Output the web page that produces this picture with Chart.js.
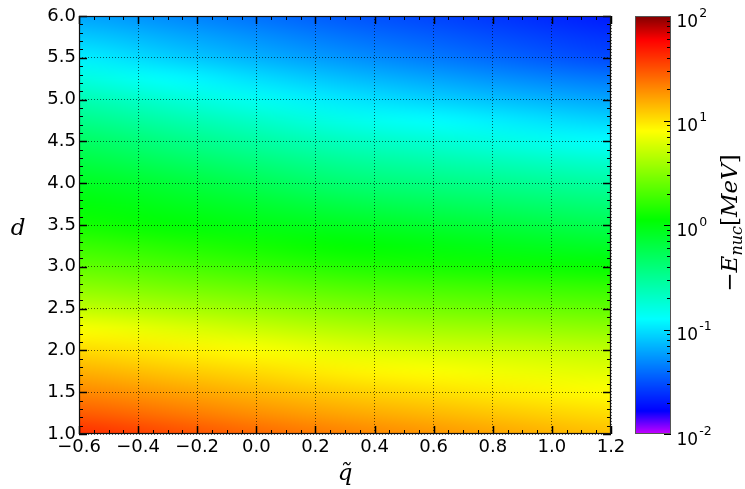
<!DOCTYPE html>
<html>
<head>
<meta charset="utf-8">
<script src="https://cdn.jsdelivr.net/npm/chart.js@4.4.0/dist/chart.umd.min.js"></script>
<style>
  html, body { margin: 0; padding: 0; background: #fff; }
  #wrap { position: relative; width: 745px; height: 489px; }
  #main { position: absolute; left: 0; top: 0; }
  #bar { position: absolute; left: 625px; top: 0; }
</style>
</head>
<body>
<div id="wrap">
  <canvas id="main" width="625" height="489"></canvas>
  <canvas id="bar" width="120" height="489"></canvas>
</div>
<script>
// grid
const qValues = [-0.6, -0.3, 0.0, 0.3, 0.6, 0.9, 1.2];
const dValues = [1.0, 1.25, 1.5, 1.75, 2.0, 2.25, 2.5, 2.75, 3.0, 3.25, 3.5,
                 3.75, 4.0, 4.25, 4.5, 4.75, 5.0, 5.25, 5.5, 5.75, 6.0];
// log10(-E_nuc / MeV), one row per d value, one column per q value
const logEnuc = [
  [ 1.62,  1.52,  1.42,  1.33,  1.26,  1.19,  1.12],
  [ 1.46,  1.37,  1.28,  1.20,  1.14,  1.07,  1.01],
  [ 1.31,  1.23,  1.15,  1.07,  1.01,  0.95,  0.90],
  [ 1.17,  1.09,  1.02,  0.94,  0.89,  0.84,  0.80],
  [ 1.03,  0.96,  0.89,  0.81,  0.76,  0.73,  0.69],
  [ 0.89,  0.81,  0.73,  0.65,  0.60,  0.57,  0.53],
  [ 0.69,  0.62,  0.55,  0.48,  0.43,  0.40,  0.37],
  [ 0.52,  0.45,  0.39,  0.32,  0.28,  0.25,  0.22],
  [ 0.37,  0.30,  0.23,  0.16,  0.12,  0.09,  0.06],
  [ 0.24,  0.17,  0.11,  0.05,  0.00, -0.05, -0.10],
  [ 0.11,  0.04, -0.02, -0.07, -0.13, -0.19, -0.25],
  [ 0.02, -0.05, -0.13, -0.22, -0.28, -0.34, -0.40],
  [-0.07, -0.15, -0.26, -0.37, -0.43, -0.49, -0.55],
  [-0.19, -0.29, -0.40, -0.51, -0.58, -0.65, -0.72],
  [-0.31, -0.43, -0.55, -0.66, -0.74, -0.82, -0.90],
  [-0.46, -0.58, -0.70, -0.82, -0.90, -0.98, -1.05],
  [-0.61, -0.74, -0.86, -0.98, -1.06, -1.14, -1.21],
  [-0.78, -0.90, -1.01, -1.12, -1.21, -1.30, -1.37],
  [-0.95, -1.06, -1.17, -1.27, -1.36, -1.45, -1.53],
  [-1.08, -1.18, -1.28, -1.38, -1.46, -1.54, -1.61],
  [-1.21, -1.30, -1.39, -1.48, -1.55, -1.62, -1.69]
];
const qTicks = [-0.6, -0.4, -0.2, 0.0, 0.2, 0.4, 0.6, 0.8, 1.0, 1.2];
const dTicks = [1.0, 1.5, 2.0, 2.5, 3.0, 3.5, 4.0, 4.5, 5.0, 5.5, 6.0];
const barExponents = [-2, -1, 0, 1, 2];

// colour map as seen on the colour bar (log10 value -> rgb)
const cmapStops = [
  [-2.0, [200, 0, 255]],
  [-1.78, [0, 0, 255]],
  [-0.9, [0, 255, 255]],
  [0.05, [0, 255, 0]],
  [0.9, [255, 255, 0]],
  [1.77, [255, 0, 0]],
  [2.0, [128, 0, 0]]
];

function cmap(v) {
  if (v <= cmapStops[0][0]) return cmapStops[0][1];
  for (let i = 1; i < cmapStops.length; i++) {
    const [v1, c1] = cmapStops[i];
    if (v <= v1) {
      const [v0, c0] = cmapStops[i - 1];
      const t = (v - v0) / (v1 - v0);
      return c0.map((c, k) => Math.round(c + (c1[k] - c) * t));
    }
  }
  return cmapStops[cmapStops.length - 1][1];
}

function fmt(v) {
  return (v < 0 ? '\u2212' : '') + Math.abs(v).toFixed(1);
}

const heatmap = {
  id: 'heatmap',
  beforeDraw(chart) {
    const { ctx, chartArea: a, scales: { x, y } } = chart;
    const nc = qValues.length, nr = dValues.length;
    const off = document.createElement('canvas');
    off.width = nc; off.height = nr;
    const octx = off.getContext('2d');
    const img = octx.createImageData(nc, nr);
    for (let r = 0; r < nr; r++) {
      for (let c = 0; c < nc; c++) {
        const rgb = cmap(logEnuc[nr - 1 - r][c]);
        const i = (r * nc + c) * 4;
        img.data[i] = rgb[0]; img.data[i + 1] = rgb[1]; img.data[i + 2] = rgb[2]; img.data[i + 3] = 255;
      }
    }
    octx.putImageData(img, 0, 0);
    const x0 = x.getPixelForValue(qValues[0]);
    const x1 = x.getPixelForValue(qValues[nc - 1]);
    const yTop = y.getPixelForValue(dValues[nr - 1]);
    const yBot = y.getPixelForValue(dValues[0]);
    const cw = (x1 - x0) / (nc - 1), ch = (yBot - yTop) / (nr - 1);
    ctx.save();
    ctx.beginPath();
    ctx.rect(a.left, a.top, a.width, a.height);
    ctx.clip();
    ctx.imageSmoothingEnabled = true;
    ctx.imageSmoothingQuality = 'high';
    ctx.drawImage(off, x0 - cw / 2, yTop - ch / 2, cw * nc, ch * nr);
    ctx.restore();
  }
};

const frame = {
  id: 'frame',
  afterDraw(chart) {
    const { ctx, chartArea: a, scales: { x, y } } = chart;
    ctx.save();
    ctx.strokeStyle = '#000';
    const line = (x1, y1, x2, y2, w) => {
      ctx.lineWidth = w;
      ctx.beginPath(); ctx.moveTo(x1, y1); ctx.lineTo(x2, y2); ctx.stroke();
    };
    const tx = (v, len, w) => {
      const px = Math.round(x.getPixelForValue(v)) + 0.5;
      line(px, a.bottom, px, a.bottom - len, w);
      line(px, a.top, px, a.top + len, w);
    };
    const ty = (v, len, w) => {
      const py = Math.round(y.getPixelForValue(v)) + 0.5;
      line(a.left, py, a.left + len, py, w);
      line(a.right, py, a.right - len, py, w);
    };
    for (let i = 0; i < qTicks.length - 1; i++) {
      for (let k = 1; k < 4; k++) tx(qTicks[i] + (qTicks[i + 1] - qTicks[i]) * k / 4, 4, 1);
    }
    for (let i = 0; i < dTicks.length - 1; i++) {
      for (let k = 1; k < 5; k++) ty(dTicks[i] + (dTicks[i + 1] - dTicks[i]) * k / 5, 4, 1);
    }
    qTicks.forEach(v => tx(v, 8, 1.5));
    dTicks.forEach(v => ty(v, 8, 1.5));
    ctx.lineWidth = 1.2;
    ctx.strokeStyle = '#111';
    ctx.strokeRect(a.left + 0.5, a.top + 0.5, a.width - 1, a.height - 1);

    // axis titles
    ctx.fillStyle = '#000';
    ctx.font = 'italic 23px "DejaVu Serif"';
    ctx.textAlign = 'center';
    ctx.textBaseline = 'alphabetic';
    ctx.fillText('q\u0303', (a.left + a.right) / 2, 480);
    ctx.fillText('d', 18, 235);
    ctx.restore();
  }
};

const tickFont = { family: 'DejaVu Sans', size: 18 };

new Chart(document.getElementById('main'), {
  type: 'scatter',
  data: { datasets: [] },
  options: {
    responsive: false,
    animation: false,
    layout: { padding: { left: 0, right: 14, top: 16, bottom: 0 } },
    plugins: { legend: { display: false }, tooltip: { enabled: false } },
    scales: {
      x: {
        type: 'linear', min: -0.6, max: 1.2,
        afterBuildTicks: s => { s.ticks = qTicks.map(v => ({ value: v })); },
        afterFit: s => { s.height = 55; s.paddingLeft = 0; s.paddingRight = 0; },
        ticks: { font: tickFont, color: '#000', padding: 3, maxRotation: 0, autoSkip: false, callback: v => fmt(v) },
        grid: { color: 'rgba(0,0,0,0.6)', lineWidth: 1, drawTicks: false },
        border: { display: false, dash: [1, 2] }
      },
      y: {
        type: 'linear', min: 1, max: 6,
        afterBuildTicks: s => { s.ticks = dTicks.map(v => ({ value: v })); },
        afterFit: s => { s.width = 79; s.paddingTop = 0; s.paddingBottom = 0; },
        ticks: { font: tickFont, color: '#000', padding: 3, autoSkip: false, callback: v => fmt(v) },
        grid: { color: 'rgba(0,0,0,0.6)', lineWidth: 1, drawTicks: false },
        border: { display: false, dash: [1, 2] }
      }
    }
  },
  plugins: [heatmap, frame]
});

const colorbar = {
  id: 'colorbar',
  beforeDraw(chart) {
    const { ctx, chartArea: a, scales: { y } } = chart;
    for (let py = Math.floor(a.top); py < a.bottom; py++) {
      const v = Math.log10(y.getValueForPixel(py + 0.5));
      const c = cmap(v);
      ctx.fillStyle = `rgb(${c[0]},${c[1]},${c[2]})`;
      ctx.fillRect(a.left, py, a.width, 1);
    }
  },
  afterDraw(chart) {
    const { ctx, chartArea: a, scales: { y } } = chart;
    ctx.save();
    ctx.strokeStyle = '#000';
    ctx.lineWidth = 1;
    const tick = (val, len) => {
      const py = Math.round(y.getPixelForValue(val)) + 0.5;
      ctx.beginPath(); ctx.moveTo(a.right, py); ctx.lineTo(a.right - len, py); ctx.stroke();
    };
    for (let e = barExponents[0]; e < barExponents[barExponents.length - 1]; e++) {
      for (let k = 2; k < 10; k++) tick(k * Math.pow(10, e), 4);
    }
    barExponents.forEach(e => tick(Math.pow(10, e), 7));
    ctx.strokeStyle = '#555';
    ctx.strokeRect(a.left + 0.5, a.top + 0.5, a.width - 1, a.height - 1);

    ctx.fillStyle = '#000';
    ctx.textAlign = 'left';
    ctx.textBaseline = 'alphabetic';
    barExponents.forEach(e => {
      const py = y.getPixelForValue(Math.pow(10, e));
      const lx = a.right + 5.5;
      ctx.font = '17px "DejaVu Sans"';
      ctx.fillText('10', lx, py + 10.5);
      const w = ctx.measureText('10').width;
      ctx.font = '12.5px "DejaVu Sans"';
      ctx.fillText(String(e), lx + w + 1, py + 0.5);
    });

    // rotated label  -E_nuc [MeV]
    const parts = [
      { t: '\u2212', f: '23px "DejaVu Serif"', dy: 0 },
      { t: 'E', f: 'italic 23px "DejaVu Serif"', dy: 0 },
      { t: 'nuc', f: 'italic 16px "DejaVu Serif"', dy: 5 },
      { t: '[', f: '23px "DejaVu Serif"', dy: 0 },
      { t: 'MeV', f: 'italic 23px "DejaVu Serif"', dy: 0 },
      { t: ']', f: '23px "DejaVu Serif"', dy: 0 }
    ];
    let total = 0;
    parts.forEach(p => { ctx.font = p.f; p.w = ctx.measureText(p.t).width; total += p.w; });
    ctx.translate(112, 223);
    ctx.rotate(-Math.PI / 2);
    let cx = -total / 2;
    parts.forEach(p => { ctx.font = p.f; ctx.fillText(p.t, cx, p.dy); cx += p.w; });
    ctx.restore();
  }
};

new Chart(document.getElementById('bar'), {
  type: 'scatter',
  data: { datasets: [] },
  options: {
    responsive: false,
    animation: false,
    layout: { padding: { left: 10, right: 0, top: 16, bottom: 55 } },
    plugins: { legend: { display: false }, tooltip: { enabled: false } },
    scales: {
      x: { display: false },
      y: {
        type: 'logarithmic', position: 'right', min: 0.01, max: 100,
        ticks: { display: false },
        grid: { display: false },
        border: { display: false },
        afterFit: s => { s.width = 74; s.paddingTop = 0; s.paddingBottom = 0; }
      }
    }
  },
  plugins: [colorbar]
});
</script>
</body>
</html>
